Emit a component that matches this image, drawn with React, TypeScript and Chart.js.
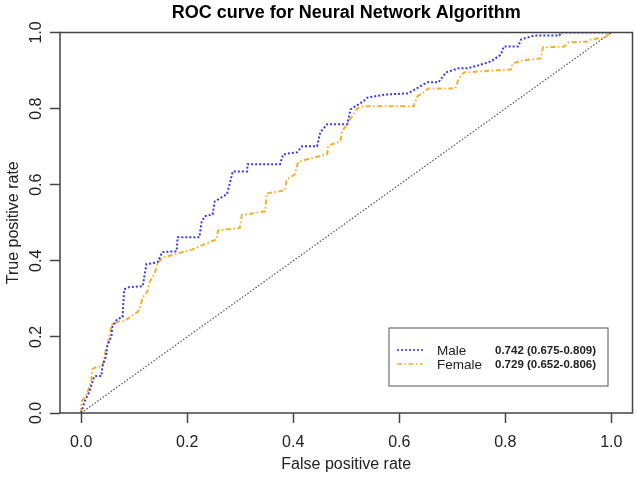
import React, { useEffect, useRef } from 'react';
import { Chart, registerables } from 'chart.js';

Chart.register(...registerables);

const FONT = '"Liberation Sans", Arial, Helvetica, sans-serif';

const chartTitle = 'ROC curve for Neural Network Algorithm';
const xAxisTitle = 'False positive rate';
const yAxisTitle = 'True positive rate';

const xTickValues = [0, 0.2, 0.4, 0.6, 0.8, 1.0];
const yTickValues = [0, 0.2, 0.4, 0.6, 0.8, 1.0];

const groupNames = ['Male', 'Female'];
const aucLabels = ['0.742 (0.675-0.809)', '0.729 (0.652-0.806)'];

const maleFPR = [0, 0.006, 0.015, 0.021, 0.025, 0.038, 0.040, 0.047, 0.049, 0.057, 0.059, 0.068, 0.078, 0.081, 0.091, 0.116, 0.123, 0.144, 0.153, 0.180, 0.182, 0.223, 0.227, 0.233, 0.248, 0.252, 0.275, 0.286, 0.313, 0.314, 0.375, 0.381, 0.407, 0.417, 0.445, 0.451, 0.464, 0.502, 0.508, 0.532, 0.540, 0.574, 0.617, 0.636, 0.653, 0.674, 0.688, 0.712, 0.729, 0.748, 0.773, 0.792, 0.797, 0.824, 0.830, 0.854, 0.902, 0.905, 1.0];
const maleTPR = [0, 0.029, 0.055, 0.081, 0.097, 0.097, 0.123, 0.150, 0.176, 0.202, 0.228, 0.247, 0.252, 0.325, 0.331, 0.333, 0.391, 0.396, 0.423, 0.425, 0.462, 0.462, 0.501, 0.517, 0.522, 0.556, 0.575, 0.635, 0.635, 0.654, 0.654, 0.680, 0.685, 0.701, 0.701, 0.738, 0.759, 0.759, 0.798, 0.819, 0.829, 0.837, 0.840, 0.856, 0.869, 0.869, 0.895, 0.906, 0.906, 0.913, 0.924, 0.942, 0.963, 0.963, 0.982, 0.992, 0.992, 1.0, 1.0];

const femaleFPR = [0, 0, 0.009, 0.019, 0.021, 0.028, 0.040, 0.044, 0.047, 0.049, 0.057, 0.059, 0.072, 0.081, 0.095, 0.106, 0.110, 0.116, 0.125, 0.129, 0.138, 0.144, 0.153, 0.172, 0.191, 0.210, 0.233, 0.256, 0.258, 0.299, 0.303, 0.347, 0.350, 0.384, 0.388, 0.403, 0.409, 0.426, 0.464, 0.466, 0.489, 0.492, 0.504, 0.511, 0.521, 0.532, 0.627, 0.634, 0.646, 0.655, 0.706, 0.712, 0.722, 0.811, 0.814, 0.835, 0.867, 0.871, 0.911, 0.919, 0.956, 0.962, 0.987, 1.0];
const femaleTPR = [0, 0.029, 0.045, 0.081, 0.115, 0.121, 0.123, 0.150, 0.168, 0.176, 0.226, 0.234, 0.241, 0.241, 0.255, 0.265, 0.273, 0.304, 0.320, 0.344, 0.365, 0.391, 0.409, 0.415, 0.423, 0.430, 0.444, 0.457, 0.480, 0.486, 0.520, 0.530, 0.577, 0.585, 0.614, 0.627, 0.659, 0.667, 0.680, 0.703, 0.714, 0.740, 0.764, 0.780, 0.801, 0.806, 0.806, 0.832, 0.843, 0.853, 0.853, 0.879, 0.895, 0.903, 0.919, 0.927, 0.932, 0.961, 0.963, 0.974, 0.976, 0.982, 0.987, 1.0];

const chanceFPR = [0, 1];
const chanceTPR = [0, 1];

const MALE_COLOR = '#3B3BE6';
const FEMALE_COLOR = '#F5AF2A';
const MALE_DASH = [2, 2];
const FEMALE_DASH = [5, 2.5, 1.5, 2.5];
const AXIS_COLOR = '#444';
const TEXT_COLOR = '#222';

const toPoints = (xs: number[], ys: number[]) => xs.map((x, i) => ({ x, y: ys[i] }));

export default function App() {
  const ref = useRef<HTMLCanvasElement>(null);

  useEffect(() => {
    const canvas = ref.current;
    if (!canvas) return;

    const framePlugin = {
      id: 'rFrameLegend',
      afterDatasetsDraw(chart: any) {
        const { ctx, chartArea } = chart;
        ctx.save();
        // plot frame (box)
        ctx.strokeStyle = AXIS_COLOR;
        ctx.lineWidth = 1.5;
        ctx.setLineDash([]);
        ctx.strokeRect(chartArea.left, chartArea.top, chartArea.right - chartArea.left, chartArea.bottom - chartArea.top);

        // legend box
        const bl = chartArea.right - 243.5;
        const bt = chartArea.bottom - 85;
        const bw = 219;
        const bh = 58;
        ctx.fillStyle = '#fff';
        ctx.fillRect(bl, bt, bw, bh);
        ctx.strokeStyle = '#555';
        ctx.lineWidth = 1;
        ctx.strokeRect(bl, bt, bw, bh);

        const colors = [MALE_COLOR, FEMALE_COLOR];
        const dashes = [MALE_DASH, FEMALE_DASH];
        groupNames.forEach((name, i) => {
          const y = bt + 22 + i * 14;
          ctx.strokeStyle = colors[i];
          ctx.lineWidth = 1.6;
          ctx.setLineDash(dashes[i]);
          ctx.beginPath();
          ctx.moveTo(bl + 8, y);
          ctx.lineTo(bl + 34, y);
          ctx.stroke();
          ctx.setLineDash([]);
          ctx.fillStyle = TEXT_COLOR;
          ctx.textBaseline = 'middle';
          ctx.textAlign = 'left';
          ctx.font = `13.5px ${FONT}`;
          ctx.fillText(name, bl + 48, y + 1);
          ctx.font = `bold 11.5px ${FONT}`;
          ctx.fillText(aucLabels[i], bl + 106, y + 1);
        });
        ctx.restore();
      },
    };

    const chart = new Chart(canvas, {
      type: 'scatter',
      data: {
        datasets: [
          {
            label: 'Male',
            data: toPoints(maleFPR, maleTPR),
            showLine: true,
            borderColor: MALE_COLOR,
            backgroundColor: MALE_COLOR,
            borderWidth: 2,
            borderDash: MALE_DASH,
            pointRadius: 0,
            tension: 0,
            fill: false,
            order: 1,
          },
          {
            label: 'Female',
            data: toPoints(femaleFPR, femaleTPR),
            showLine: true,
            borderColor: FEMALE_COLOR,
            backgroundColor: FEMALE_COLOR,
            borderWidth: 2,
            borderDash: FEMALE_DASH,
            pointRadius: 0,
            tension: 0,
            fill: false,
            order: 2,
          },
          {
            label: 'Chance',
            data: toPoints(chanceFPR, chanceTPR),
            showLine: true,
            borderColor: '#555',
            backgroundColor: '#555',
            borderWidth: 1.2,
            borderDash: [1.5, 1.8],
            pointRadius: 0,
            tension: 0,
            fill: false,
            order: 3,
          },
        ],
      },
      options: {
        responsive: false,
        animation: false,
        events: [],
        layout: { padding: { left: 0, right: 4.5, top: 0, bottom: 0 } },
        scales: {
          x: {
            type: 'linear',
            min: -0.04,
            max: 1.04,
            afterBuildTicks: (s: any) => {
              s.ticks = xTickValues.map((v) => ({ value: v }));
            },
            afterFit: (s: any) => {
              s.height = 65;
            },
            ticks: {
              callback: (v: any) => Number(v).toFixed(1),
              font: { size: 16, family: FONT },
              color: TEXT_COLOR,
              padding: 10,
              maxRotation: 0,
              autoSkip: false,
            },
            grid: {
              display: true,
              drawOnChartArea: false,
              drawTicks: true,
              tickLength: 10,
              tickColor: AXIS_COLOR,
              tickWidth: 1.5,
            },
            border: { display: false },
            title: {
              display: true,
              text: xAxisTitle,
              font: { size: 16, family: FONT },
              color: TEXT_COLOR,
              padding: { top: 0, bottom: 4 },
            },
          },
          y: {
            type: 'linear',
            min: 0,
            max: 1,
            afterBuildTicks: (s: any) => {
              s.ticks = yTickValues.map((v) => ({ value: v }));
            },
            afterFit: (s: any) => {
              s.width = 60;
            },
            ticks: {
              callback: (v: any) => Number(v).toFixed(1),
              font: { size: 16, family: FONT },
              color: TEXT_COLOR,
              padding: 2,
              minRotation: 90,
              maxRotation: 90,
              crossAlign: 'center',
              autoSkip: false,
            },
            grid: {
              display: true,
              drawOnChartArea: false,
              drawTicks: true,
              tickLength: 10,
              tickColor: AXIS_COLOR,
              tickWidth: 1.5,
            },
            border: { display: false },
            title: {
              display: true,
              text: yAxisTitle,
              font: { size: 16, family: FONT },
              color: TEXT_COLOR,
              padding: { top: 3.6, bottom: 0 },
            },
          },
        },
        plugins: {
          legend: { display: false },
          tooltip: { enabled: false },
          title: {
            display: true,
            text: chartTitle,
            fullSize: false,
            font: { size: 18, weight: 'bold', family: FONT },
            color: '#000',
            padding: { top: 2.7, bottom: 8.2 },
          },
        },
      } as any,
      plugins: [framePlugin],
    });

    return () => {
      chart.destroy();
    };
  }, []);

  return (
    <div style={{ position: 'absolute', left: 0, top: 0, width: 637, height: 478, background: '#fff' }}>
      <canvas ref={ref} width={637} height={478} style={{ display: 'block' }} />
    </div>
  );
}
